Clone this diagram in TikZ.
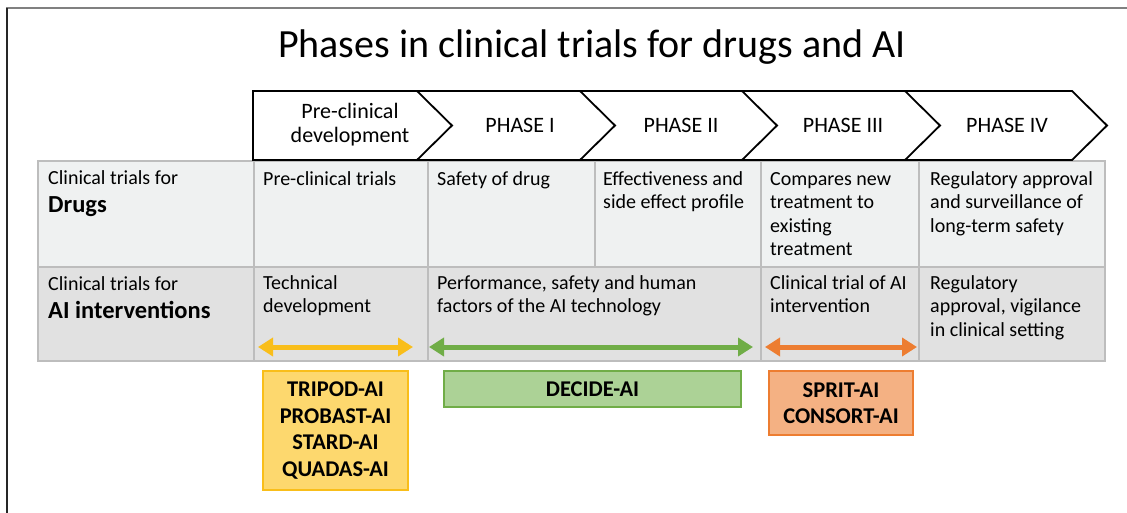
\documentclass[tikz,border=0pt]{standalone}
\usepackage{fontspec}
\setmainfont{Carlito}
\usetikzlibrary{arrows.meta}

\definecolor{rowA}{HTML}{EFF1F1}
\definecolor{rowB}{HTML}{E1E1E1}
\definecolor{gridline}{HTML}{BDBDBD}
\definecolor{ylw}{HTML}{F9BE1A}
\definecolor{ylwfill}{HTML}{FDD86E}
\definecolor{grn}{HTML}{70AD47}
\definecolor{grnfill}{HTML}{ACD296}
\definecolor{org}{HTML}{ED7D31}
\definecolor{orgfill}{HTML}{F4B183}

\tikzset{
  cell/.style={anchor=north west, inner sep=0pt, align=left,
    font=\fontsize{20}{23.5}\selectfont},
  rowhead/.style={anchor=base west, inner sep=0pt,
    font=\fontsize{20}{23.5}\selectfont},
  rowtitle/.style={anchor=base west, inner sep=0pt,
    font=\fontsize{24.5}{28}\selectfont\bfseries},
  phase/.style={inner sep=0pt, align=center,
    font=\fontsize{22}{24}\selectfont},
  span/.style={{Triangle[width=18pt,length=15pt]}-{Triangle[width=18pt,length=15pt]}, line width=5pt},
  guide/.style={draw, line width=1.3pt, align=center, inner sep=0pt,
    font=\fontsize{22.5}{26.5}\selectfont\bfseries},
}

\begin{document}
\begin{tikzpicture}[x=1pt,y=-1pt]
\useasboundingbox (0,0) rectangle (1127,513);

% frame
\draw[line width=2pt, black!50] (6,8.5) -- (1127,8.5);
\draw[line width=2pt, black!85] (6.5,8) -- (6.5,513);

% title
\node[inner sep=0pt, font=\fontsize{40}{46}\selectfont] (title) at (592,47)
  {Phases in clinical trials for drugs and AI};

% table rows
\fill[rowA] (38,161) rectangle (1105,267);
\fill[rowB] (38,267) rectangle (1105,361);
\draw[gridline, line width=1.4pt]
  (38,161) rectangle (1105,361)
  (38,267) -- (1105,267)
  (254,161) -- (254,361)
  (428,161) -- (428,361)
  (595,161) -- (595,267)
  (761,161) -- (761,361)
  (919,161) -- (919,361);

% phase chevrons
\draw[line width=1.8pt, line join=miter]
  (253,161) -- (253,91) -- (1072,91) -- (1107,125.5) -- (1072,160) -- (253,160);
\draw[line width=1.8pt, line join=miter]
  (417,91) -- (452,125.5) -- (417,160)
  (580,91) -- (615,125.5) -- (580,160)
  (742,91) -- (777,125.5) -- (742,160)
  (905,91) -- (940,125.5) -- (905,160);

\node[phase] (p0) at (350,125) {Pre-clinical\\development};
\node[phase] (p1) at (520,125) {PHASE I};
\node[phase] (p2) at (681,125) {PHASE II};
\node[phase] (p3) at (843,125) {PHASE III};
\node[phase] (p4) at (1007,125) {PHASE IV};

% row headers
\node[rowhead]  (hdA)  at (48,185) {Clinical trials for};
\node[rowtitle] (hdA2) at (48,213) {Drugs};
\node[rowhead]  (hdB)  at (48,290) {Clinical trials for};
\node[rowtitle] (hdB2) at (48,318) {AI interventions};

% drug row
\node[cell] (d0) at (263,168.5) {\strut Pre-clinical trials};
\node[cell] (d1) at (437,168.5) {\strut Safety of drug};
\node[cell] (d2) at (603,168.5) {\strut Effectiveness and\\side effect profile};
\node[cell] (d3) at (770,168.5) {\strut Compares new\\treatment to\\existing\\treatment};
\node[cell] (d4) at (930,168.5) {\strut Regulatory approval\\and surveillance of\\long-term safety};

% AI row
\node[cell] (a0) at (263,272.5) {\strut Technical\\development};
\node[cell] (a1) at (437,272.5) {\strut Performance, safety and human\\factors of the AI technology};
\node[cell] (a3) at (770,272.5) {\strut Clinical trial of AI\\intervention};
\node[cell] (a4) at (930,272.5) {\strut Regulatory\\approval, vigilance\\in clinical setting};

% span arrows
\coordinate (ys) at (258,347);  \coordinate (ye) at (413,347);
\coordinate (gs) at (429,347);  \coordinate (ge) at (753,347);
\coordinate (os) at (765,347);  \coordinate (oe) at (917,347);
\draw[span, ylw] (ys) -- (ye);
\draw[span, grn] (gs) -- (ge);
\draw[span, org] (os) -- (oe);

% reporting guidelines
\node[guide, draw=ylw, fill=ylwfill, minimum width=145pt, minimum height=119pt]
  (gY) at (335.5,430.5) {TRIPOD-AI\\PROBAST-AI\\STARD-AI\\QUADAS-AI};
\node[guide, draw=grn, fill=grnfill, minimum width=297pt, minimum height=36pt]
  (gG) at (592.5,389) {DECIDE-AI};
\node[guide, draw=org, fill=orgfill, minimum width=144pt, minimum height=64pt]
  (gO) at (841,403) {SPRIT-AI\\CONSORT-AI};
\end{tikzpicture}
\end{document}
